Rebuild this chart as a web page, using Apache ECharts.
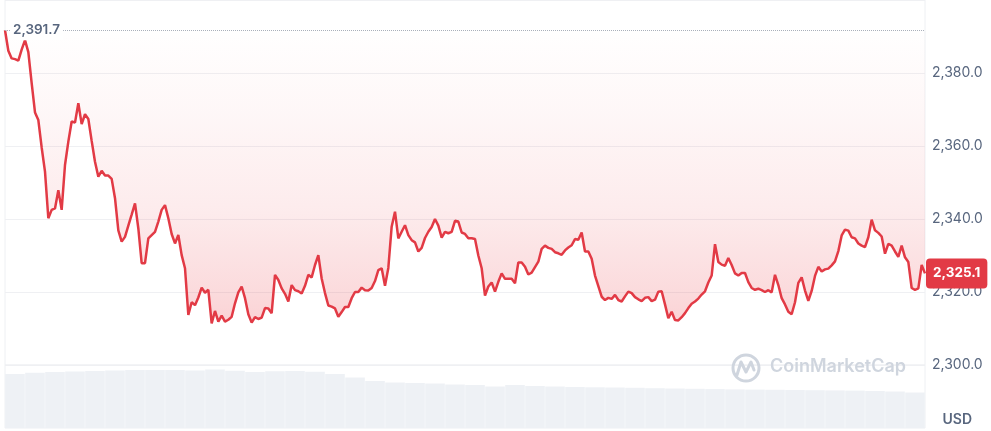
<!DOCTYPE html>
<html><head><meta charset="utf-8">
<script src="https://cdn.jsdelivr.net/npm/echarts@6/dist/echarts.min.js"></script>
<style>html,body{margin:0;padding:0;background:#fff}#c{width:991px;height:431px}</style>
</head><body><div id="c"></div>
<script>
// Price samples (USD), evenly spaced in time, oldest first
const price = [
2391.7,2386.1,2384.0,2383.8,2383.4,2386.4,2389.0,2385.7,2377.2,2369.2,2367.1,2359.6,2353.0,2340.2,2342.5,2342.9,2347.9,2342.5,2354.8,2361.2,2366.7,2366.4,2371.7,2366.0,2368.7,2367.4,2361.4,2355.7,2351.6,2353.2,2351.9,2351.9,2351.0,2345.7,2336.9,2333.8,2335.1,2338.2,2341.2,2344.3,2337.4,2327.9,2327.9,2334.7,2335.6,2336.5,
2339.3,2342.5,2343.8,2340.2,2335.9,2333.3,2335.6,2330.1,2326.5,2313.7,2317.2,2316.4,2318.5,2321.2,2319.8,2320.6,2311.4,2314.8,2311.9,2313.5,2311.9,2312.4,2313.2,2316.9,2319.9,2321.5,2318.3,2313.9,2311.6,2313.1,2312.6,2313.0,2315.6,2315.5,2314.2,2324.7,2323.3,2321.0,2319.5,2317.4,2321.9,2320.5,2320.2,2319.6,2321.7,2324.7,
2324.0,2327.4,2330.1,2323.7,2319.7,2316.3,2316.0,2315.5,2313.2,2314.5,2315.9,2315.9,2318.3,2320.0,2320.0,2321.2,2320.5,2320.4,2321.1,2323.0,2326.0,2326.5,2321.7,2326.6,2337.9,2342.0,2334.7,2336.5,2338.3,2335.6,2334.2,2333.6,2331.1,2332.1,2334.8,2336.5,2337.8,2340.0,2338.2,2334.9,2336.5,2336.1,2336.5,2339.5,2339.3,2336.3,
2335.9,2334.7,2334.7,2334.5,2330.0,2326.5,2319.0,2321.5,2322.6,2320.1,2322.8,2325.1,2323.6,2323.6,2323.6,2322.4,2328.1,2328.1,2326.9,2324.8,2325.3,2326.8,2328.3,2331.8,2332.7,2332.1,2331.8,2330.9,2330.6,2330.2,2331.4,2332.2,2332.8,2334.5,2334.3,2336.3,2331.1,2331.1,2329.1,2324.5,2321.6,2318.7,2317.8,2318.4,2318.1,2319.2,2317.8,
2317.4,2318.8,2320.1,2319.7,2318.6,2318.0,2317.5,2318.4,2318.6,2317.5,2317.9,2320.1,2320.2,2316.6,2312.8,2314.6,2312.3,2312.2,2313.1,2314.2,2315.6,2316.8,2317.4,2318.2,2319.3,2320.2,2322.6,2324.5,2333.1,2328.2,2327.5,2327.2,2329.3,2327.4,2325.1,2324.5,2325.2,2325.2,2322.7,2321.1,2320.6,2320.9,2320.5,2320.0,2320.5,2319.9,
2324.7,2321.9,2318.3,2316.6,2314.6,2313.9,2317.2,2322.5,2324.0,2320.4,2317.6,2320.3,2324.4,2326.9,2325.6,2326.2,2326.4,2327.3,2328.4,2331.2,2335.5,2337.1,2336.8,2335.0,2334.7,2333.3,2332.7,2332.3,2335.0,2339.8,2336.9,2336.2,2335.2,2330.5,2333.2,2332.7,2331.1,2329.6,2332.7,2329.5,2328.2,2321.1,2320.6,2321.0,2327.4,2325.1
];
// Relative trading volume (bottom strip)
const volume = [
54,55.3,56,56.5,57,57.5,58,58,58,57.5,58.5,57.3,56,56.8,57,56.3,54,50.5,47,45.5,45,44.5,43.5,43,41.5,43,42,41.5,41,40.7,
40.5,40.2,39.8,39.5,39.2,38.9,38.6,38.4,38.2,38,37.8,37.6,37.4,37,36.5,35.5
];
const priceAxisMin = 2300, priceAxisMax = 2400, priceAxisStep = 20;
const currency = 'USD';
const brand = 'CoinMarketCap';

const RED = '#e23a45';
const GRAY = '#58667e';
const fmt = v => Number(v).toLocaleString('en-US', {minimumFractionDigits: 1, maximumFractionDigits: 1});

const chart = echarts.init(document.getElementById('c'), null, {renderer: 'canvas'});
chart.setOption({
  animation: false,
  backgroundColor: '#fff',
  grid: [
    {left: 5, right: 66, top: 0, bottom: 66, show: true, borderColor: '#eef0f3', borderWidth: 1},
    {left: 5, right: 66, top: 365, bottom: 3, show: true, borderColor: '#eef0f3', borderWidth: 1}
  ],
  xAxis: [
    {type: 'category', gridIndex: 0, data: price.map((_, i) => i), boundaryGap: false, show: false},
    {type: 'category', gridIndex: 1, data: volume.map((_, i) => i), show: false}
  ],
  yAxis: [
    {type: 'value', gridIndex: 0, position: 'right', min: priceAxisMin, max: priceAxisMax, interval: priceAxisStep,
     axisLine: {show: false}, axisTick: {show: false},
     splitLine: {lineStyle: {color: '#eff0f3', width: 1}},
     axisLabel: {color: GRAY, fontSize: 14, fontFamily: 'Inter', margin: 7, showMaxLabel: false, formatter: v => fmt(v)}},
    {type: 'value', gridIndex: 1, min: 0, max: 63, show: false}
  ],
  series: [
    {type: 'bar', xAxisIndex: 1, yAxisIndex: 1, data: volume, barCategoryGap: '2%', silent: true,
     itemStyle: {color: '#eef1f5'}},
    {type: 'line', xAxisIndex: 0, yAxisIndex: 0, data: price, showSymbol: false, silent: true,
     lineStyle: {color: RED, width: 2.5}, itemStyle: {color: RED},
     areaStyle: {origin: 'end', color: new echarts.graphic.LinearGradient(0, 0, 0, 1, [
       {offset: 0, color: 'rgba(234,57,67,0)'},
       {offset: 0.08, color: 'rgba(234,57,67,0.0)'},
       {offset: 0.35, color: 'rgba(234,57,67,0.06)'},
       {offset: 0.65, color: 'rgba(234,57,67,0.14)'},
       {offset: 0.9, color: 'rgba(234,57,67,0.26)'},
       {offset: 1, color: 'rgba(234,57,67,0.32)'}
     ])},
     markLine: {silent: true, symbol: ['none', 'none'], z: 5, animation: false,
       data: [
         {type: 'max', lineStyle: {type: 'dotted', color: '#a9b0bb', width: 1},
          label: {position: 'insideStart', distance: 5, formatter: p => fmt(p.value), color: GRAY,
                  fontSize: 13.5, fontFamily: 'Inter', fontWeight: 600, backgroundColor: '#fff', padding: [3, 3]}},
         {yAxis: price[price.length - 1], lineStyle: {color: 'rgba(0,0,0,0)', width: 1},
          label: {show: true, position: 'end', distance: 1, formatter: p => fmt(p.value), color: '#fff', backgroundColor: RED,
                  fontSize: 13.5, fontWeight: 'bold', fontFamily: 'Inter', padding: [8, 7, 8, 7], borderRadius: 4}}
       ]}}
  ],
  graphic: [
    {type: 'circle', shape: {cx: 746, cy: 368, r: 13}, style: {fill: 'none', stroke: '#cfd5de', lineWidth: 3}, z: 10, silent: true},
    {type: 'polyline', shape: {points: [[737, 375], [741, 362], [746, 372], [751, 362], [754, 370]]},
     style: {fill: 'none', stroke: '#cfd5de', lineWidth: 3, lineJoin: 'round', lineCap: 'round'}, z: 10, silent: true},
    {type: 'text', left: 770, top: 358, z: 10, silent: true,
     style: {text: brand, font: '600 18px Inter', fill: '#cfd5de'}},
    {type: 'text', right: 19, top: 413, z: 10, silent: true,
     style: {text: currency, font: '600 14px Inter', fill: GRAY}}
  ]
});
</script></body></html>
